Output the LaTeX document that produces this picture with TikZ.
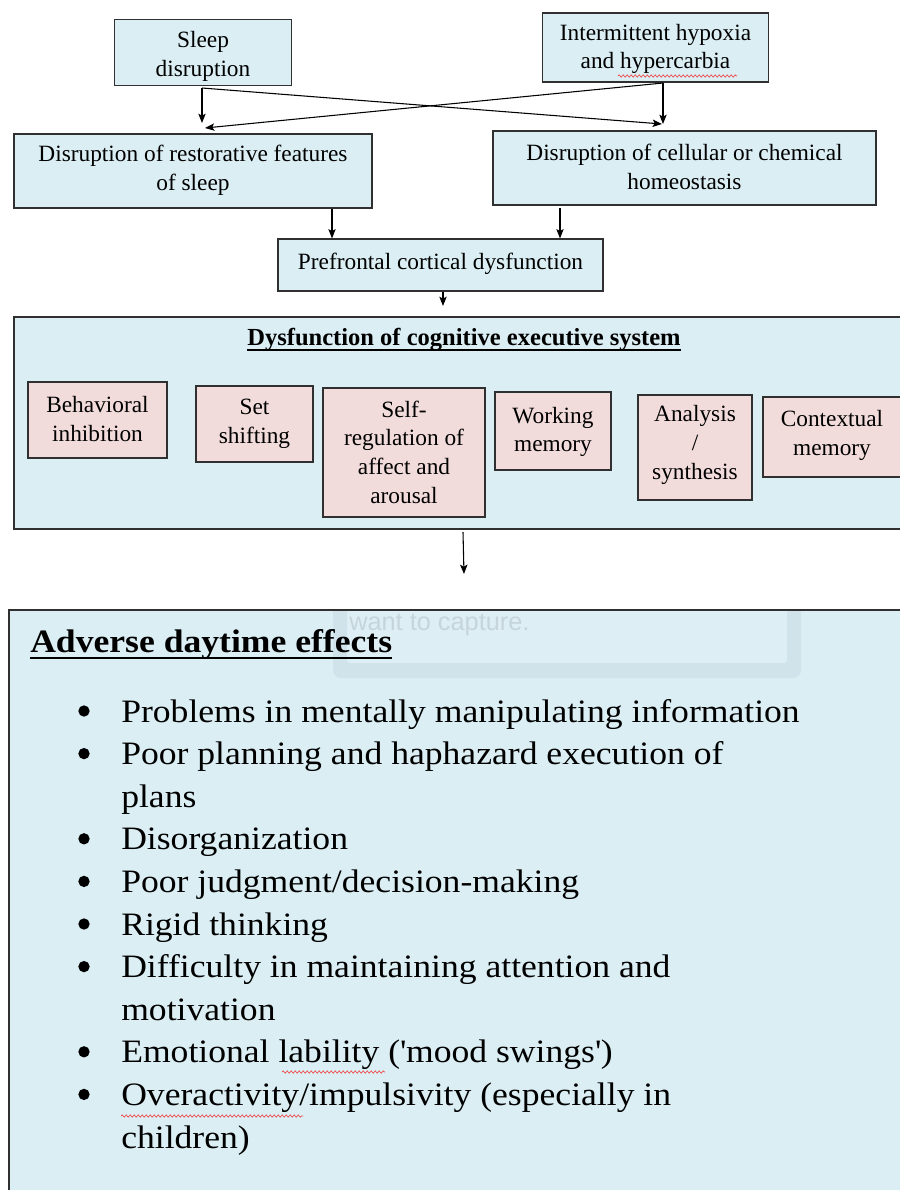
\documentclass[tikz,border=0pt]{standalone}
\usepackage{fontspec}
\setmainfont{Liberation Serif}
\newfontfamily\bodyfont[FakeStretch=1.09]{Liberation Serif}
\newfontfamily\ghostfont{Liberation Sans}
\usetikzlibrary{arrows.meta,calc,decorations.pathmorphing}
\definecolor{boxblue}{HTML}{DAEEF3}
\definecolor{boxpink}{HTML}{F2DCDB}
\definecolor{boxline}{HTML}{303030}
\definecolor{ghostedge}{HTML}{D0E3EA}
\definecolor{ghostin}{HTML}{DDEFF4}
\definecolor{ghosttext}{HTML}{C6D5DB}
\definecolor{spellred}{HTML}{F04040}
\tikzset{
  bluebox/.style={draw=boxline, fill=boxblue, line width=0.9pt, inner sep=0pt},
  pinkbox/.style={draw=boxline, fill=boxpink, line width=0.9pt, inner sep=0pt},
  txt/.style={inner sep=0pt, align=center, font=\fontsize{17.5}{21.5}\selectfont},
  ttl/.style={inner sep=0pt, font=\fontsize{18.4}{21}\selectfont\bfseries},
  item/.style={inner sep=0pt, anchor=base west, font=\bodyfont\fontsize{24.5}{30}\selectfont},
  bul/.style={circle, fill=black, inner sep=0pt, minimum size=8.5pt},
  conn/.style={draw=black, line width=0.8pt, -{Stealth[length=7pt,width=5.5pt,inset=1.5pt]}},
  squig/.style={draw=spellred, line width=0.5pt, decorate, decoration={snake, amplitude=0.8pt, segment length=3pt}}
}
\begin{document}
\begin{tikzpicture}[x=0.75pt,y=-0.75pt]
\useasboundingbox (0,0) rectangle (900,1190);
\clip (0,0) rectangle (900,1190);
\fill[white] (0,0) rectangle (900,1190);

% ---- top boxes ----
\node[bluebox, minimum width=132.75pt, minimum height=49.5pt] (sleep) at (203,52.5) {};
\node[txt] (sleepT) at (203,56.5) {Sleep\\disruption};
\node[bluebox, minimum width=169.5pt, minimum height=51.75pt] (hyp) at (655.5,47.5) {};
\node[txt] (hypT) at (655.5,49) {Intermittent hypoxia\\and hypercarbia};
\node[bluebox, minimum width=268.5pt, minimum height=55.5pt] (rest) at (193,171) {};
\node[txt] (restT) at (193,170) {Disruption of restorative features\\of sleep};
\node[bluebox, minimum width=287.25pt, minimum height=55.5pt] (cell) at (684.5,168) {};
\node[txt] (cellT) at (684.5,167) {Disruption of cellular or chemical\\homeostasis};
\node[bluebox, minimum width=243.75pt, minimum height=39pt] (pref) at (440.5,265) {};
\node[txt] (prefT) at (440.5,263.5) {Prefrontal cortical dysfunction};

% ---- top connectors ----
\coordinate (sA) at (202,88);
\coordinate (sB) at (202,123);
\coordinate (sC) at (662,124);
\coordinate (iA) at (663,83);
\coordinate (iB) at (663,124);
\coordinate (iC) at (205,128);
\draw[conn] (sA) -- (sB);
\draw[conn] (sA) -- (sC);
\draw[conn] (iA) -- (iB);
\draw[conn] (iA) -- (iC);
\coordinate (r1) at (332,209);
\coordinate (c1) at (560,208);
\draw[conn] (r1) -- (r1 |- pref.north);
\draw[conn] (c1) -- (c1 |- pref.north);
\coordinate (p1) at (443,292);
\coordinate (p2) at (443,306);
\draw[conn] (p1) -- (p2);

% ---- executive system box ----
\node[bluebox, minimum width=672pt, minimum height=159pt] (exec) at (462,423) {};
\node[ttl, anchor=base] (execT) at (464,345) {Dysfunction of cognitive executive system};
\draw[line width=1.1pt] ($(execT.base west)+(0,5)$) -- ($(execT.base east)+(0,5)$);

\node[pinkbox, minimum width=104.25pt, minimum height=57pt] (beh) at (97.5,420) {};
\node[txt] (behT) at (97.5,419) {Behavioral\\inhibition};
\node[pinkbox, minimum width=87.75pt, minimum height=57pt] (set) at (254.5,424) {};
\node[txt] (setT) at (254.5,423.5) {Set\\shifting};
\node[pinkbox, minimum width=121.5pt, minimum height=96.75pt] (self) at (404,452.5) {};
\node[txt] (selfT) at (404,452) {Self-\\regulation of\\affect and\\arousal};
\node[pinkbox, minimum width=87pt, minimum height=58.5pt] (work) at (553,431) {};
\node[txt] (workT) at (553,432) {Working\\memory};
\node[pinkbox, minimum width=85.5pt, minimum height=78.75pt] (ana) at (695,447.5) {};
\node[txt] (anaT) at (695,445) {Analysis\\/\\synthesis};
\node[pinkbox, minimum width=111pt, minimum height=60pt] (ctx) at (837,437) {};
\node[txt] (ctxT) at (832,435.5) {Contextual\\memory};

\coordinate (d1) at (463,532);
\coordinate (d2) at (464,574);
\draw[conn] (d1) -- (d2);

% ---- adverse effects box ----
\node[bluebox, line width=1.2pt, minimum width=675.75pt, minimum height=442.5pt] (adv) at (459.5,905) {};
\begin{scope}
  \clip (10,611) rectangle (910,1200);
  \fill[ghostedge, rounded corners=6pt] (333,585) rectangle (801,678);
  \fill[ghostin, rounded corners=2pt] (347,585) rectangle (787,663);
  \node[inner sep=0pt, anchor=base west, text=ghosttext, font=\ghostfont\fontsize{19}{24}\selectfont] (ghostT) at (349,630) {want to capture.};
\end{scope}
\node[item, font=\bodyfont\fontsize{24.5}{30}\selectfont\bfseries] (advT) at (30,652) {Adverse daytime effects};
\draw[line width=1.5pt] ($(advT.base west)+(0,6)$) -- ($(advT.base east)+(0,6)$);

\node[item] (i1) at (121,722) {Problems in mentally manipulating information};
\node[item] (i2) at (121,764.6) {Poor planning and haphazard execution of};
\node[item] (i2b) at (121,807.2) {plans};
\node[item] (i3) at (121,849.8) {Disorganization};
\node[item] (i4) at (121,892.4) {Poor judgment/decision-making};
\node[item] (i5) at (121,935) {Rigid thinking};
\node[item] (i6) at (121,977.6) {Difficulty in maintaining attention and};
\node[item] (i6b) at (121,1020.2) {motivation};
\node[item] (i7) at (121,1062.8) {Emotional lability (\textquotesingle mood swings\textquotesingle)};
\node[item] (i8) at (121,1105.4) {Overactivity/impulsivity (especially in};
\node[item] (i8b) at (121,1148) {children)};

\foreach \n in {i1,i2,i3,i4,i5,i6,i7,i8}{
  \node[bul] (b\n) at ($(\n.base west)+(-37,-11)$) {};
}

% spell-check marks
\draw[squig] (618,76) -- (737,76);
\draw[squig] (282,1072) -- (385,1072);
\draw[squig] (121,1116) -- (303,1116);
\end{tikzpicture}
\end{document}
